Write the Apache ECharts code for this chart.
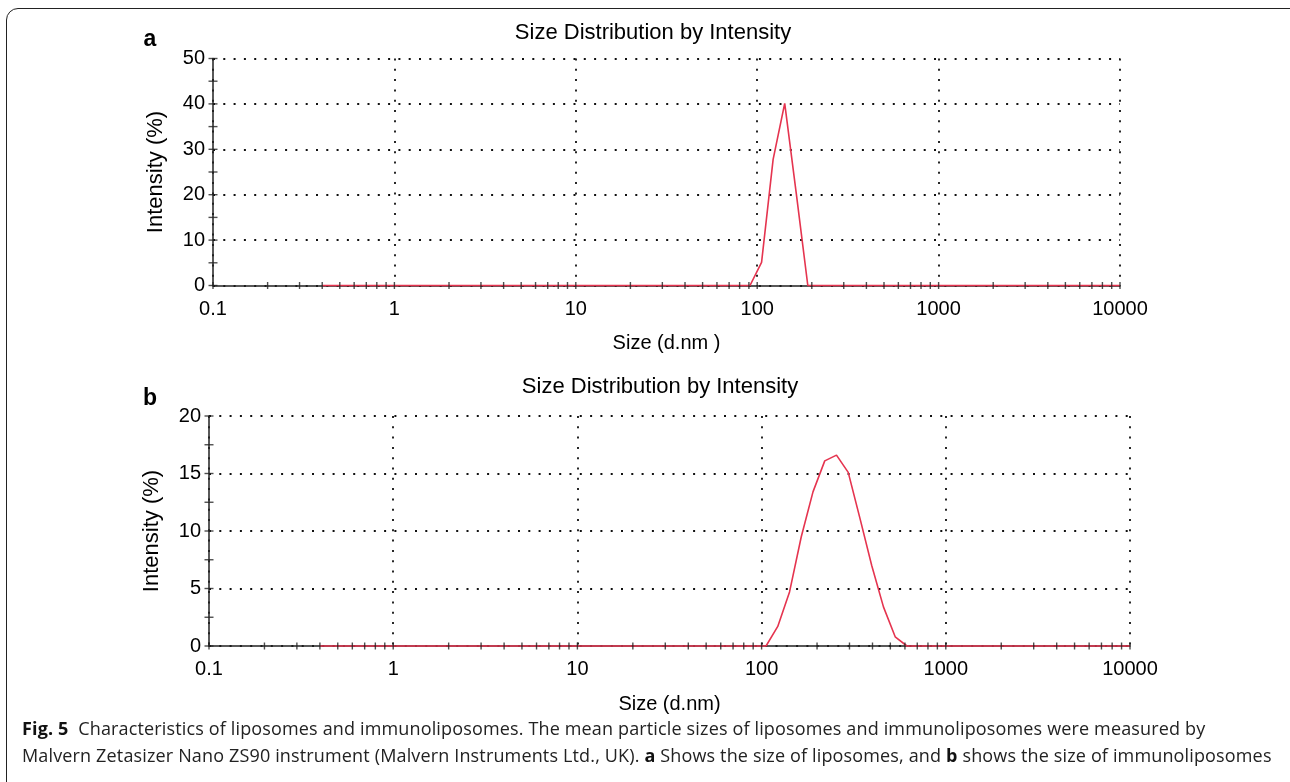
<!DOCTYPE html>
<html>
<head>
<meta charset="utf-8">
<script src="https://cdn.jsdelivr.net/npm/echarts@6/dist/echarts.min.js"></script>
<style>
  html, body { margin:0; padding:0; background:#fff; width:1290px; height:782px; overflow:hidden; }
  #frame { position:absolute; left:6px; top:8px; width:1300px; height:790px; border:1.5px solid #222; border-radius:12px; box-sizing:border-box; }
  #chart { position:absolute; left:0; top:0; width:1290px; height:782px; }
  #caption { position:absolute; left:22px; top:715px; font-family:"Open Sans","Noto Sans",sans-serif; font-size:18px; line-height:27px; color:#222; white-space:nowrap; letter-spacing:0.15px; }
  #caption b { font-weight:700; color:#111; }
</style>
</head>
<body>
<div id="frame"></div>
<div id="chart"></div>
<div id="caption">
  <div><b>Fig. 5</b>&nbsp; Characteristics of liposomes and immunoliposomes. The mean particle sizes of liposomes and immunoliposomes were measured by</div>
  <div>Malvern Zetasizer Nano ZS90 instrument (Malvern Instruments Ltd., UK). <b>a</b> Shows the size of liposomes, and <b>b</b> shows the size of immunoliposomes</div>
</div>
<script>
// ---- data ----
const sizesA = [0.4, 78.82, 91.28, 105.7, 122.4, 141.8, 164.2, 190.1, 220.2, 10000];
const intensA = [0, 0, 0, 5.1, 27.8, 40.1, 20.3, 0, 0, 0];
const sizesB = [0.4, 91.28, 105.7, 122.4, 141.8, 164.2, 190.1, 220.2, 255.0, 295.3, 342.0, 396.1, 458.7, 531.2, 615.1, 712.4, 10000];
const intensB = [0, 0, 0, 1.7, 4.7, 9.5, 13.4, 16.1, 16.6, 15.1, 11.1, 7.0, 3.4, 0.8, 0, 0, 0];
const xTickLabels = ['0.1', '1', '10', '100', '1000', '10000'];
const xTickValues = [0.1,0.2,0.3,0.4,0.5,0.6,0.7,0.8,0.9,1,2,3,4,5,6,7,8,9,10,20,30,40,50,60,70,80,90,100,200,300,400,500,600,700,800,900,1000,2000,3000,4000,5000,6000,7000,8000,9000,10000];
const yTickValuesA = [0,5,10,15,20,25,30,35,40,45,50];
const yTickValuesB = [0,2.5,5,7.5,10,12.5,15,17.5,20];
const titleText = 'Size Distribution by Intensity';
const yName = 'Intensity (%)';
const xNameA = 'Size (d.nm )';
const xNameB = 'Size (d.nm)';

const FONT = '"Liberation Sans", Arial, sans-serif';
const INK = '#000';
const RED = '#e5344f';

function xAxisCfg(gi, name, margin) {
  return {
    gridIndex: gi, type: 'log', logBase: 10, min: 0.1, max: 10000,
    name: name, nameLocation: 'middle', nameGap: 48,
    nameTextStyle: { fontFamily: FONT, fontSize: 20, color: INK },
    axisLine: { lineStyle: { color: '#222', width: 1.5 } },
    axisTick: { show: false },
    minorTick: { show: false },
    axisLabel: { fontFamily: FONT, fontSize: 20, color: INK, margin: margin,
      formatter: v => xTickLabels[Math.round(Math.log10(v)) + 1] },
    splitLine: { show: true, lineStyle: { color: '#111', width: 1.8, type: [2, 8.3] } }
  };
}
function yAxisCfg(gi, max, interval) {
  return {
    gridIndex: gi, type: 'value', min: 0, max: max, interval: interval,
    name: yName, nameLocation: 'middle', nameGap: 46, nameRotate: 90,
    nameTextStyle: { fontFamily: FONT, fontSize: 22, color: INK },
    axisLine: { show: true, lineStyle: { color: '#222', width: 1.5 } },
    axisTick: { show: false },
    axisLabel: { fontFamily: FONT, fontSize: 20, color: INK, margin: 8 },
    splitLine: { show: true, lineStyle: { color: '#111', width: 1.8, type: [2, 8.3] } }
  };
}
function tickSeries(gi, vals, isX) {
  return {
    type: 'scatter', xAxisIndex: gi, yAxisIndex: gi, silent: true, clip: false, z: 5,
    symbol: 'rect', symbolSize: isX ? [1.4, 7] : [9, 1.4],
    itemStyle: { color: '#222' },
    data: vals.map(v => isX ? [v, 0] : [0.1, v])
  };
}
function lineSeries(gi, xs, ys) {
  return {
    type: 'line', xAxisIndex: gi, yAxisIndex: gi, z: 3,
    showSymbol: false, symbol: 'none', clip: false,
    lineStyle: { color: RED, width: 1.6 },
    data: xs.map((x, i) => [x, ys[i]])
  };
}

const chart = echarts.init(document.getElementById('chart'), null, { renderer: 'canvas' });
chart.setOption({
  animation: false,
  backgroundColor: 'transparent',
  grid: [
    { left: 213, top: 58.5, width: 907, height: 227 },
    { left: 209, top: 416, width: 921, height: 230 }
  ],
  xAxis: [xAxisCfg(0, xNameA, 14), xAxisCfg(1, xNameB, 13)],
  yAxis: [yAxisCfg(0, 50, 10), yAxisCfg(1, 20, 5)],
  series: [
    lineSeries(0, sizesA, intensA),
    lineSeries(1, sizesB, intensB),
    tickSeries(0, xTickValues, true),
    tickSeries(1, xTickValues, true),
    tickSeries(0, yTickValuesA, false),
    tickSeries(1, yTickValuesB, false)
  ],
  graphic: [
    { type: 'text', x: 653, y: 33, style: { text: titleText, font: '22px ' + FONT, fill: INK, align: 'center', verticalAlign: 'middle' } },
    { type: 'text', x: 660, y: 387, style: { text: titleText, font: '22px ' + FONT, fill: INK, align: 'center', verticalAlign: 'middle' } },
    { type: 'text', x: 150, y: 40, style: { text: 'a', font: 'bold 23px ' + FONT, fill: INK, align: 'center', verticalAlign: 'middle' } },
    { type: 'text', x: 150, y: 399, style: { text: 'b', font: 'bold 23px ' + FONT, fill: INK, align: 'center', verticalAlign: 'middle' } }
  ]
});
</script>
</body>
</html>
